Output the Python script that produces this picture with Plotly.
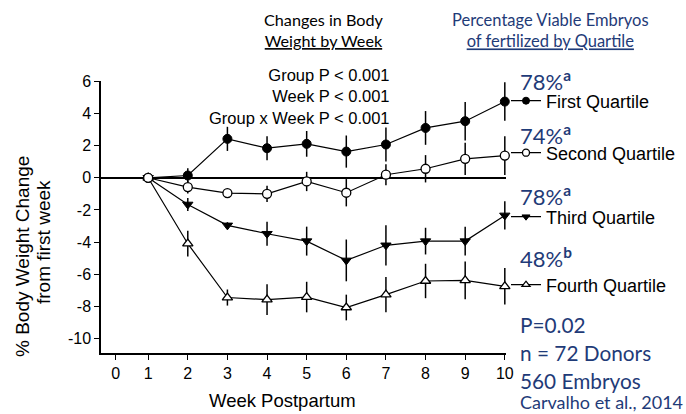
import plotly.graph_objects as go

# ---------------- data ----------------
weeks = [1, 2, 3, 4, 5, 6, 7, 8, 9, 10]
q1 = [0, 0.14, 2.42, 1.84, 2.11, 1.63, 2.07, 3.10, 3.52, 4.74]
q1_err = [0, 0.45, 0.75, 0.75, 0.8, 1.0, 1.05, 1.05, 1.2, 1.2]
q2 = [0, -0.58, -0.95, -1.0, -0.23, -0.93, 0.19, 0.56, 1.18, 1.38]
q2_err = [0, 0.4, 0.25, 0.5, 0.6, 0.85, 0.65, 0.85, 1.0, 1.2]
q3 = [0, -1.66, -2.96, -3.48, -3.94, -5.14, -4.2, -3.94, -3.94, -2.34]
q3_err = [0, 0.4, 0.2, 0.75, 0.9, 1.3, 1.25, 0.83, 0.9, 0.88]
q4 = [0, -4.1, -7.45, -7.58, -7.42, -8.07, -7.27, -6.42, -6.38, -6.75]
q4_err = [0, 0.8, 0.5, 0.95, 0.95, 0.8, 1.1, 1.07, 1.17, 1.14]

series_names = ["First Quartile", "Second Quartile", "Third Quartile", "Fourth Quartile"]
viable_pct = ["78%", "74%", "78%", "48%"]
viable_sig = ["a", "a", "a", "b"]

x_tick_labels = ["0", "1", "2", "3", "4", "5", "6", "7", "8", "9", "10"]
y_tick_vals = [6, 4, 2, 0, -2, -4, -6, -8, -10]
y_tick_labels = ["6", "4", "2", "0", "-2", "-4", "-6", "-8", "-10"]

# ---------------- layout helpers ----------------
W, H = 686, 414
L, R, T, B = 101, 180, 81, 61
PW, PH = W - L - R, H - T - B


def px(x, y):
    return (x - L) / PW, (H - B - y) / PH


NAVY = "#1F3B78"
ARIAL = "Liberation Sans"
CAL = "Lato"

fig = go.Figure()

styles = {
    "First Quartile": dict(symbol="circle", color="black", line=dict(color="black", width=1)),
    "Second Quartile": dict(symbol="circle", color="white", line=dict(color="black", width=1.3)),
    "Third Quartile": dict(symbol="triangle-down", color="black", line=dict(color="black", width=1)),
    "Fourth Quartile": dict(symbol="triangle-up", color="white", line=dict(color="black", width=1.3)),
}
data = {"First Quartile": (q1, q1_err), "Second Quartile": (q2, q2_err),
        "Third Quartile": (q3, q3_err), "Fourth Quartile": (q4, q4_err)}
legend_ids = {"First Quartile": "legend", "Second Quartile": "legend2",
              "Third Quartile": "legend3", "Fourth Quartile": "legend4"}

for name in ["Fourth Quartile", "Third Quartile", "First Quartile", "Second Quartile"]:
    vals, err = data[name]
    st = styles[name]
    fig.add_trace(go.Scatter(
        x=weeks, y=vals, name=name, mode="lines+markers",
        line=dict(color="black", width=1.2),
        marker=dict(symbol=st["symbol"], size=9, color=st["color"], line=st["line"]),
        error_y=dict(type="data", array=err, visible=True, width=0, thickness=1.5, color="black"),
        cliponaxis=False, showlegend=False,
    ))

# legend-only entries (smaller sample markers, like the reference key)
for name in series_names:
    st = styles[name]
    fig.add_trace(go.Scatter(
        x=[None], y=[None], name=name, mode="lines+markers",
        line=dict(color="black", width=1.2),
        marker=dict(symbol=st["symbol"], size=7, color=st["color"], line=st["line"]),
        legend=legend_ids[name], showlegend=True,
    ))

# ---------------- axes ----------------
fig.update_xaxes(
    range=[-0.19, 10.03], tickvals=[0.18] + weeks, ticktext=x_tick_labels,
    showline=True, linecolor="black", linewidth=1.5, ticks="outside", ticklen=5,
    tickwidth=1.3, tickcolor="black", showgrid=False, zeroline=False,
    tickfont=dict(family=ARIAL, size=16, color="black"),
)
fig.update_yaxes(
    range=[-10.9, 6.02], tickvals=y_tick_vals, ticktext=y_tick_labels,
    showline=True, linecolor="black", linewidth=1.5, ticks="outside", ticklen=5,
    tickwidth=1.3, tickcolor="black", showgrid=False,
    zeroline=True, zerolinecolor="black", zerolinewidth=2,
    tickfont=dict(family=ARIAL, size=16, color="black"),
)

# ---------------- legends ----------------
leg_y = {"legend": 101, "legend2": 153, "legend3": 217, "legend4": 285}
leg_cfg = {}
for lid, yy in leg_y.items():
    lx, ly = px(506, yy)
    leg_cfg[lid] = dict(x=lx, y=ly, xanchor="left", yanchor="middle", xref="paper", yref="paper",
                        bgcolor="rgba(0,0,0,0)", borderwidth=0, itemwidth=30,
                        font=dict(family=ARIAL, size=18, color="black"), itemsizing="trace")

# ---------------- annotations ----------------
ann = []


def add(text, x, y, size, color="black", family=ARIAL, xanchor="center", yanchor="middle",
        align="center", angle=0):
    ax, ay = px(x, y)
    ann.append(dict(text=text, x=ax, y=ay, xref="paper", yref="paper", showarrow=False,
                    xanchor=xanchor, yanchor=yanchor, align=align, textangle=angle,
                    font=dict(family=family, size=size, color=color)))


add("Changes in Body<br><u>Weight by Week</u>", 324, 30, 16.2, family=CAL)
add("Percentage Viable Embryos<br><u>of fertilized by Quartile</u>", 550, 30, 16.5, color=NAVY, family=CAL)
add("Group P < 0.001<br>Week P < 0.001<br>Group x Week P < 0.001", 392, 96, 16.5,
    xanchor="right", align="right")

pct_y = [80, 134, 195, 257]
for p, s, yy in zip(viable_pct, viable_sig, pct_y):
    add(f"{p}<sup><b>{s}</b></sup>", 518, yy, 22, color=NAVY, family=CAL, xanchor="left", align="left")

add("P=0.02", 518, 324, 20.8, color=NAVY, family=CAL, xanchor="left", align="left")
add("n = 72 Donors", 518, 352, 20.8, color=NAVY, family=CAL, xanchor="left", align="left")
add("560 Embryos", 518, 380, 20.8, color=NAVY, family=CAL, xanchor="left", align="left")
add("Carvalho et al., 2014", 518, 402, 18, color=NAVY, family=CAL, xanchor="left", align="left")

add("% Body Weight Change", 22, 257, 19, angle=-90)
add("from first week", 43, 242, 19, angle=-90)
add("Week Postpartum", 282, 400, 18.5)

fig.update_layout(
    width=W, height=H, margin=dict(l=L, r=R, t=T, b=B, pad=0, autoexpand=False),
    paper_bgcolor="white", plot_bgcolor="white",
    showlegend=True, annotations=ann,
    **leg_cfg,
)

fig.write_html(
    "out.html",
    config={"displayModeBar": False},
    post_script="document.body.style.margin='0';document.body.style.overflow='hidden';",
)
